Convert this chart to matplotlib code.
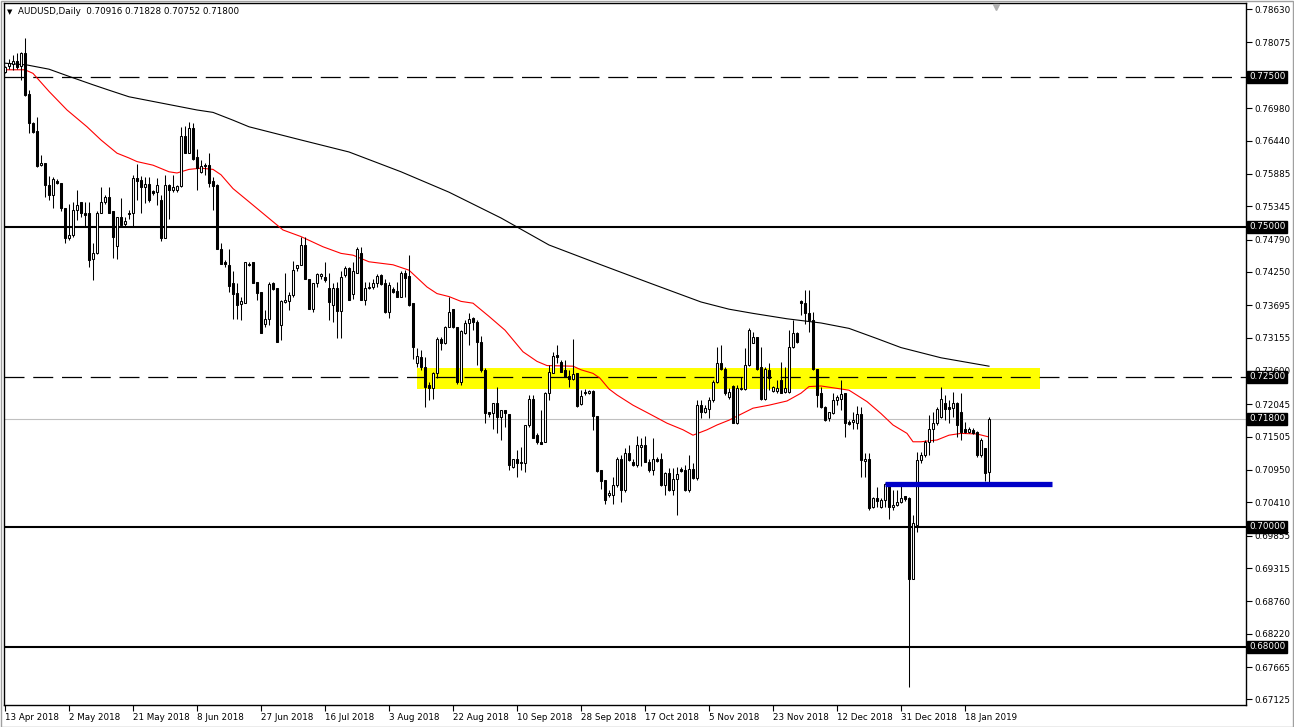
import numpy as np
import matplotlib
matplotlib.use("Agg")
import matplotlib.pyplot as plt
from matplotlib.patches import Rectangle
from matplotlib.transforms import blended_transform_factory

# daily AUDUSD bars, 13 Apr 2018 .. 25 Jan 2019
op = [.7758, .7768, .7771, .7777, .7768, .7790, .7721, .7673, .7660, .7603,
      .7606, .7570, .7553, .7577, .7573, .7531, .7481, .7487, .7528, .7541,
      .7524, .7524, .7446, .7457, .7524, .7542, .7550, .7526, .7468, .7517,
      .7505, .7524, .7523, .7581, .7578, .7566, .7572, .7560, .7559, .7545,
      .7482, .7570, .7562, .7562, .7568, .7652, .7624, .7665, .7616, .7591,
      .7603, .7603, .7577, .7570, .7464, .7441, .7437, .7406, .7390, .7372,
      .7374, .7439, .7441, .7409, .7392, .7339, .7346, .7407, .7398, .7337,
      .7375, .7377, .7387, .7431, .7437, .7470, .7414, .7363, .7406, .7418,
      .7417, .7398, .7370, .7398, .7360, .7420, .7431, .7389, .7424, .7456,
      .7378, .7398, .7400, .7407, .7420, .7406, .7359, .7396, .7393, .7384,
      .7424, .7418, .7373, .7273, .7283, .7266, .7237, .7231, .7257, .7314,
      .7306, .7334, .7364, .7333, .7242, .7323, .7340, .7348, .7342, .7309,
      .7262, .7191, .7190, .7206, .7183, .7195, .7188, .7100, .7113, .7107,
      .7107, .7170, .7213, .7153, .7142, .7142, .7223, .7257, .7287, .7275,
      .7262, .7252, .7246, .7256, .7205, .7225, .7223, .7227, .7185, .7095,
      .7078, .7053, .7053, .7070, .7113, .7062, .7123, .7109, .7103, .7134,
      .7137, .7109, .7095, .7113, .7113, .7070, .7090, .7062, .7080, .7096,
      .7095, .7062, .7096, .7081, .7203, .7192, .7196, .7211, .7242, .7273,
      .7264, .7216, .7235, .7174, .7230, .7230, .7270, .7307, .7316, .7266,
      .7214, .7262, .7227, .7227, .7245, .7225, .7225, .7300, .7323, .7377,
      .7373, .7356, .7345, .7263, .7223, .7200, .7182, .7190, .7212, .7214,
      .7223, .7175, .7175, .7174, .7189, .7110, .7114, .7034, .7048, .7033,
      .7045, .7072, .7033, .7037, .7042, .7051, .7048, .6914, .7003, .7112,
      .7120, .7142, .7163, .7173, .7184, .7207, .7200, .7198, .7206, .7192,
      .7164, .7159, .7162, .7159, .7120, .7131, .70916]
hi = [.7768, .7780, .7787, .7790, .7792, .7815, .7728, .7675, .7683, .7620,
      .7607, .7585, .7584, .7580, .7574, .7532, .7539, .7542, .7562, .7542,
      .7542, .7542, .7473, .7526, .7567, .7553, .7567, .7527, .7517, .7548,
      .7517, .7529, .7587, .7605, .7585, .7584, .7584, .7562, .7581, .7553,
      .7587, .7572, .7587, .7570, .7667, .7668, .7675, .7673, .7630, .7612,
      .7606, .7624, .7584, .7571, .7473, .7445, .7464, .7426, .7406, .7384,
      .7442, .7441, .7442, .7409, .7392, .7362, .7409, .7409, .7398, .7378,
      .7424, .7392, .7444, .7437, .7483, .7483, .7414, .7407, .7424, .7424,
      .7441, .7423, .7406, .7408, .7426, .7435, .7433, .7442, .7466, .7467,
      .7409, .7409, .7413, .7422, .7422, .7413, .7409, .7400, .7409, .7427,
      .7429, .7453, .7373, .7298, .7295, .7284, .7242, .7259, .7316, .7316,
      .7335, .7384, .7364, .7334, .7328, .7345, .7356, .7350, .7345, .7318,
      .7265, .7192, .7206, .7234, .7195, .7195, .7188, .7114, .7128, .7134,
      .7170, .7220, .7220, .7156, .7195, .7225, .7270, .7292, .7303, .7278,
      .7278, .7262, .7313, .7256, .7228, .7230, .7228, .7228, .7185, .7095,
      .7078, .7062, .7084, .7117, .7120, .7131, .7137, .7114, .7151, .7148,
      .7151, .7114, .7148, .7117, .7123, .7092, .7098, .7098, .7100, .7100,
      .7103, .7120, .7106, .7212, .7212, .7203, .7217, .7245, .7300, .7303,
      .7266, .7231, .7237, .7237, .7250, .7298, .7331, .7325, .7317, .7300,
      .7266, .7273, .7235, .7245, .7275, .7267, .7328, .7345, .7325, .7378,
      .7395, .7395, .7359, .7264, .7234, .7202, .7192, .7223, .7220, .7245,
      .7223, .7178, .7192, .7201, .7200, .7123, .7123, .7050, .7067, .7048,
      .7073, .7073, .7062, .7062, .7070, .7052, .7050, .7020, .7125, .7125,
      .7145, .7187, .7192, .7200, .7234, .7220, .7212, .7225, .7209, .7223,
      .7175, .7167, .7165, .7160, .7148, .7132, .71828]
lo = [.7756, .7763, .7762, .7763, .7745, .7718, .7656, .7656, .7600, .7601,
      .7550, .7545, .7531, .7571, .7526, .7473, .7478, .7484, .7512, .7517,
      .7501, .7433, .7412, .7455, .7523, .7539, .7523, .7448, .7446, .7501,
      .7501, .7514, .7501, .7545, .7523, .7540, .7542, .7553, .7537, .7476,
      .7481, .7514, .7559, .7559, .7567, .7623, .7623, .7612, .7562, .7590,
      .7587, .7566, .7528, .7463, .7438, .7434, .7392, .7346, .7346, .7345,
      .7373, .7435, .7406, .7378, .7323, .7334, .7337, .7395, .7308, .7312,
      .7374, .7362, .7384, .7427, .7437, .7413, .7363, .7359, .7400, .7414,
      .7409, .7345, .7342, .7315, .7315, .7417, .7378, .7380, .7424, .7378,
      .7370, .7397, .7396, .7400, .7403, .7357, .7348, .7390, .7383, .7383,
      .7383, .7369, .7280, .7267, .7262, .7200, .7212, .7214, .7248, .7295,
      .7305, .7334, .7331, .7239, .7237, .7322, .7303, .7328, .7270, .7258,
      .7173, .7184, .7164, .7156, .7145, .7167, .7095, .7099, .7084, .7095,
      .7092, .7167, .7148, .7139, .7139, .7141, .7212, .7256, .7274, .7258,
      .7250, .7234, .7245, .7200, .7203, .7220, .7221, .7162, .7092, .7063,
      .7039, .7050, .7039, .7067, .7042, .7059, .7110, .7102, .7100, .7102,
      .7109, .7092, .7087, .7109, .7068, .7053, .7060, .7053, .7020, .7092,
      .7060, .7059, .7080, .7078, .7181, .7190, .7181, .7209, .7240, .7262,
      .7220, .7214, .7173, .7172, .7228, .7228, .7268, .7306, .7262, .7212,
      .7212, .7228, .7225, .7223, .7223, .7223, .7223, .7298, .7306, .7353,
      .7339, .7325, .7262, .7200, .7198, .7177, .7177, .7189, .7203, .7195,
      .7150, .7170, .7164, .7164, .7084, .7084, .7028, .7031, .7034, .7031,
      .7034, .7014, .7028, .7035, .7040, .7044, .6734, .6913, .6992, .7106,
      .7117, .7120, .7142, .7170, .7181, .7178, .7173, .7184, .7150, .7145,
      .7156, .7156, .7155, .7117, .7117, .7076, .70752]
cl = [.7766, .7774, .7777, .7767, .7790, .7720, .7673, .7659, .7601, .7606,
      .7570, .7553, .7580, .7573, .7531, .7481, .7487, .7528, .7537, .7523,
      .7520, .7445, .7457, .7524, .7541, .7550, .7524, .7484, .7516, .7503,
      .7510, .7521, .7581, .7577, .7566, .7572, .7545, .7556, .7570, .7482,
      .7570, .7561, .7566, .7568, .7652, .7624, .7665, .7613, .7599, .7602,
      .7601, .7574, .7568, .7464, .7439, .7438, .7402, .7389, .7370, .7376,
      .7441, .7437, .7407, .7390, .7324, .7346, .7405, .7396, .7309, .7377,
      .7378, .7387, .7428, .7437, .7470, .7413, .7363, .7407, .7422, .7422,
      .7412, .7375, .7398, .7360, .7417, .7431, .7378, .7426, .7464, .7378,
      .7398, .7400, .7406, .7418, .7405, .7359, .7403, .7392, .7384, .7424,
      .7415, .7370, .7300, .7285, .7267, .7234, .7231, .7257, .7314, .7306,
      .7334, .7359, .7333, .7242, .7326, .7340, .7346, .7342, .7309, .7262,
      .7190, .7188, .7206, .7183, .7195, .7190, .7103, .7113, .7107, .7109,
      .7170, .7213, .7149, .7141, .7139, .7224, .7259, .7285, .7284, .7259,
      .7250, .7246, .7255, .7201, .7218, .7223, .7227, .7185, .7093, .7077,
      .7045, .7056, .7070, .7113, .7062, .7123, .7112, .7103, .7137, .7137,
      .7109, .7095, .7114, .7110, .7070, .7090, .7062, .7080, .7088, .7093,
      .7062, .7096, .7081, .7203, .7192, .7198, .7211, .7242, .7273, .7264,
      .7223, .7225, .7174, .7231, .7231, .7270, .7328, .7316, .7264, .7214,
      .7264, .7248, .7233, .7231, .7224, .7231, .7300, .7323, .7309, .7373,
      .7356, .7345, .7263, .7220, .7200, .7178, .7192, .7212, .7217, .7222,
      .7173, .7172, .7178, .7189, .7112, .7114, .7031, .7048, .7044, .7045,
      .7072, .7034, .7037, .7042, .7048, .7046, .6914, .7006, .7112, .7120,
      .7142, .7164, .7174, .7196, .7213, .7197, .7197, .7206, .7170, .7159,
      .7159, .7164, .7156, .7120, .7145, .7090, .71800]

# moving averages, sampled off the chart (bar index, price)
red_idx = [0, 5, 7, 11, 15.5, 20.5, 24, 28, 31, 33, 37, 41, 43, 46, 49, 52, 54, 57, 61,
           69.5, 74, 79.5, 84, 87, 91, 97, 101, 105.5, 108, 111, 114, 117, 121, 125, 127,
           129.5, 133, 135.5, 142, 144, 147, 148.75, 151, 153, 157, 161, 165.5, 169.5,
           172, 175.5, 178, 181, 187, 191, 195.5, 199, 201, 204, 208, 211, 215.5, 219,
           222, 225.5, 227, 229, 233, 236, 239, 243, 246]
red_val = [.7762, .7762, .7756, .7726, .7695, .7667, .7645, .7623, .7615, .7609, .7603,
           .7592, .7590, .7596, .7598, .7596, .7587, .7564, .7542, .7495, .7484, .7467,
           .7456, .7453, .7442, .7437, .7428, .7400, .7389, .7384, .7376, .7373, .7351,
           .7328, .7312, .7292, .7276, .7269, .7268, .7262, .7256, .7248, .7230, .7220,
           .7203, .7189, .7173, .7162, .7153, .7162, .7170, .7178, .7198, .7203, .7210,
           .7223, .7234, .7235, .7231, .7228, .7209, .7189, .7170, .7156, .7142, .7142,
           .7145, .7153, .7156, .7155, .7150]
blk_idx = [0, 5.5, 11, 16, 22, 26, 31, 48, 52, 57, 61, 74, 86, 99, 111, 124, 136, 149,
           161, 174, 181, 187, 195.5, 204, 211, 218, 224, 234, 246]
blk_val = [.7773, .7770, .7763, .7751, .7737, .7728, .7717, .7695, .7691, .7678, .7667,
           .7645, .7625, .7592, .7558, .7515, .7470, .7437, .7407, .7375, .7363, .7356,
           .7347, .7340, .7331, .7314, .7299, .7282, .7268]

date_idx = list(range(0, 241, 16))
date_lab = ["13 Apr 2018", "2 May 2018", "21 May 2018", "8 Jun 2018", "27 Jun 2018",
            "16 Jul 2018", "3 Aug 2018", "22 Aug 2018", "10 Sep 2018", "28 Sep 2018",
            "17 Oct 2018", "5 Nov 2018", "23 Nov 2018", "12 Dec 2018", "31 Dec 2018",
            "18 Jan 2019"]
price_ticks = [0.78630, 0.78075, 0.76980, 0.76440, 0.75885, 0.75345, 0.74790, 0.74250,
               0.73695, 0.73155, 0.72600, 0.72045, 0.71505, 0.70950, 0.70410, 0.69855,
               0.69315, 0.68760, 0.68220, 0.67665, 0.67125]
boxed = [0.77500, 0.75000, 0.72500, 0.71800, 0.70000, 0.68000]
solid_lv = [0.7500, 0.7000, 0.6800]
dash_lv = [0.7750, 0.7250]
bid = 0.7180
zone = (103, 258.75, 0.7230, 0.7265)   # yellow box: bar from/to, price low/high
support = (220, 261.75, 0.7072)        # blue line

W, H = 1294, 727
FS = 6.3
plt.rcParams.update({"font.family": "DejaVu Sans", "font.size": FS})
fig = plt.figure(figsize=(W / 100, H / 100), dpi=100, facecolor="white")
ax = fig.add_axes([4 / W, 22 / H, 1242 / W, 702 / H])
ax.set_xlim(-0.25, 310.25)
ax.set_ylim(0.67033, 0.78733)

ax.add_patch(Rectangle((zone[0], zone[2]), zone[1] - zone[0], zone[3] - zone[2],
                       facecolor="#ffff00", edgecolor="none", zorder=1))
for lv in solid_lv:
    ax.axhline(lv, color="black", lw=1.5, zorder=2)
for lv in dash_lv:
    ax.axhline(lv, color="black", lw=0.9, dashes=(16, 7), zorder=2)
ax.axhline(bid, color="#c0c0c0", lw=0.8, zorder=1.5)

ax.plot(blk_idx, blk_val, color="black", lw=0.8, zorder=2.5)
ax.plot(red_idx, red_val, color="#ff0000", lw=0.8, zorder=2.5)

o, h, l, c = map(np.array, (op, hi, lo, cl))
x = np.arange(len(o))
h = np.maximum(h, np.maximum(o, c))
l = np.minimum(l, np.minimum(o, c))
up = c >= o
ax.vlines(x, l, h, color="black", lw=0.75, zorder=3)
body = np.maximum(np.abs(c - o), 0.00002)
ax.bar(x, body, bottom=np.minimum(o, c), width=0.5,
       color=np.where(up, "white", "black"), edgecolor="black", lw=0.75, zorder=4)

ax.plot([support[0], support[1]], [support[2]] * 2, color="#0000c8", lw=3.8,
        solid_capstyle="butt", zorder=5)

# axes / ticks
for s in ax.spines.values():
    s.set_linewidth(1.0)
ax.yaxis.tick_right()
ax.set_yticks(price_ticks)
ax.set_yticklabels([f"{p:.5f}" for p in price_ticks])
ax.tick_params(axis="y", length=4, width=0.8, pad=2, labelsize=FS)
ax.set_xticks(date_idx)
ax.set_xticklabels(date_lab)
ax.tick_params(axis="x", length=4, width=0.8, pad=2, labelsize=FS)
for t in ax.get_xticklabels():
    t.set_ha("left")

tr = blended_transform_factory(ax.transAxes, ax.transData)
for p in boxed:
    ax.text(1.0 + 3 / 1242, p, f"{p:.5f}", transform=tr, ha="left", va="center",
            fontsize=FS, color="white", zorder=10, clip_on=False,
            bbox=dict(boxstyle="square,pad=0.18", fc="black", ec="black"))

ax.plot([247.75], [0.7866], marker="v", color="#b0b0b0", ms=5, clip_on=False, zorder=6)

fig.text(7 / W, 1 - 12 / H, "\u25bc", fontsize=5, va="center")
fig.text(18 / W, 1 - 12 / H, "AUDUSD,Daily  0.70916 0.71828 0.70752 0.71800",
         fontsize=FS, va="center")

# window border
fig.add_artist(Rectangle((0.5 / W, 0.5 / H), (W - 1.5) / W, (H - 1.5) / H,
                         transform=fig.transFigure, fill=False,
                         edgecolor="#a0a0a0", lw=1.0))

fig.savefig("out.png", dpi=100, facecolor="white")
